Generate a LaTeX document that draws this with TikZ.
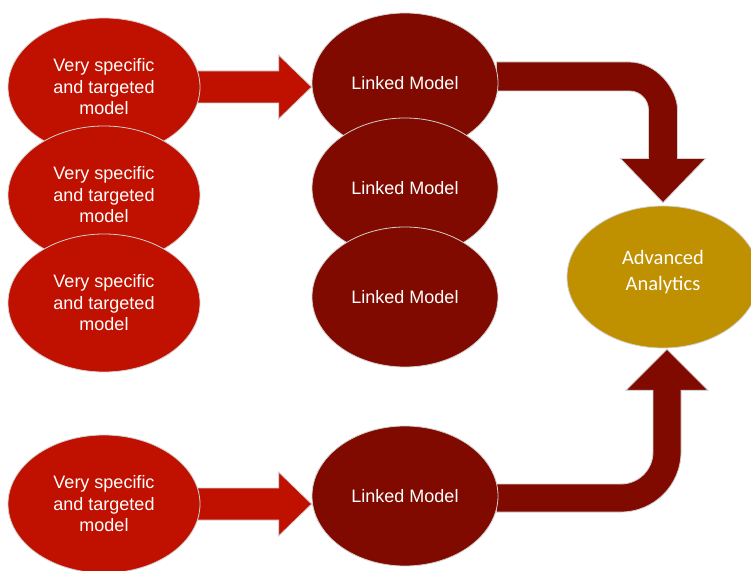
\documentclass[tikz,border=0pt]{standalone}
\usepackage{fontspec}
\setmainfont{Liberation Sans}
\newfontfamily\calib{Carlito}
\usetikzlibrary{shapes.geometric,calc}
\definecolor{redc}{RGB}{192,16,0}
\definecolor{maroon}{RGB}{128,10,0}
\definecolor{gold}{RGB}{191,144,0}
\pgfdeclarelayer{bg}
\pgfsetlayers{bg,main}
\tikzset{
  outline/.style={draw=black!18, line width=0.8pt},
  blob/.style={ellipse, outline, inner sep=0pt, align=center, text=white,
    minimum width=192pt, minimum height=138pt,
    font=\fontsize{18}{21.5}\selectfont},
  srcmodel/.style={blob, fill=redc},
  linkmodel/.style={blob, fill=maroon, minimum width=186pt, minimum height=140pt},
  goal/.style={blob, fill=gold, minimum height=142pt},
  goaltext/.style={align=center, text=white, inner sep=0pt,
    font=\calib\fontsize{20.5}{26.5}\selectfont},
  redarrow/.style={fill=redc, outline},
  darkarrow/.style={fill=maroon, outline},
}
\begin{document}
\begin{tikzpicture}[x=1pt, y=1pt]
\useasboundingbox (0,0) rectangle (751,570);
\clip (0,0) rectangle (751,570);

% source models, stacked so that each lower one overlaps the one above
\node[srcmodel] (a1) at (104,483) {Very specific\\and targeted\\model};
\node[srcmodel] (a2) at (104,375) {Very specific\\and targeted\\model};
\node[srcmodel] (a3) at (104,267) {Very specific\\and targeted\\model};
\node[srcmodel] (a4) at (104,66)  {Very specific\\and targeted\\model};

% linked models
\node[linkmodel] (l1) at (405,487) {Linked Model};
\node[linkmodel] (l2) at (405,382) {Linked Model};
\node[linkmodel] (l3) at (405,273) {Linked Model};
\node[linkmodel] (l4) at (405,74)  {Linked Model};

% target, its label set a little above the centre
\node[goal] (aa) at (663,293) {};
\node[goaltext] (aat) at ($(aa.center)+(0,5)$) {Advanced\\Analytics};

\begin{pgfonlayer}{bg}
% straight block arrows: source model -> linked model
\path[redarrow] let \p1=(a1.east), \p2=(l1.west) in
  ({\x1-3pt},{\y1+16pt}) -- ({\x2-33pt},{\y1+16pt}) -- ({\x2-33pt},{\y1+32pt})
  -- (\x2,\y1) -- ({\x2-33pt},{\y1-32pt}) -- ({\x2-33pt},{\y1-16pt})
  -- ({\x1-3pt},{\y1-16pt}) -- cycle;
\path[redarrow] let \p1=(a4.east), \p2=(l4.west) in
  ({\x1-3pt},{\y1+16pt}) -- ({\x2-33pt},{\y1+16pt}) -- ({\x2-33pt},{\y1+32pt})
  -- (\x2,\y1) -- ({\x2-33pt},{\y1-32pt}) -- ({\x2-33pt},{\y1-16pt})
  -- ({\x1-3pt},{\y1-16pt}) -- cycle;

% bent arrow: top linked model -> advanced analytics (down)
\path[darkarrow] let \p1=(l1.east), \p2=(aa.north),
    \n1={\y1+6.5pt}, \n2={\x2}, \n3={\y2+3pt} in
  ({\x1-2pt},{\n1+14.5}) -- ({\n2-33.5},{\n1+14.5})
  .. controls ({\n2-7},{\n1+14.5}) and ({\n2+14.5},{\n1-12}) .. ({\n2+14.5},{\n1-33.5})
  -- ({\n2+14.5},{\n3+44}) -- ({\n2+42.5},{\n3+44}) -- (\n2,\n3)
  -- ({\n2-42.5},{\n3+44}) -- ({\n2-14.5},{\n3+44}) -- ({\n2-14.5},{\n1-33.5})
  .. controls ({\n2-14.5},{\n1-23}) and ({\n2-23},{\n1-14.5}) .. ({\n2-33.5},{\n1-14.5})
  -- ({\x1-2pt},{\n1-14.5}) -- cycle;

% bent arrow: bottom linked model -> advanced analytics (up)
\path[darkarrow] let \p1=(l4.east), \p2=(aa.south),
    \n1={\y1-2pt}, \n2={\x2+4pt}, \n3={\y2-1pt} in
  ({\x1-2pt},{\n1-14}) -- ({\n2-46},{\n1-14})
  .. controls ({\n2-12.9},{\n1-14}) and ({\n2+14},{\n1+12.9}) .. ({\n2+14},{\n1+46})
  -- ({\n2+14},{\n3-41}) -- ({\n2+41},{\n3-41}) -- (\n2,\n3)
  -- ({\n2-41},{\n3-41}) -- ({\n2-14},{\n3-41}) -- ({\n2-14},{\n1+46})
  .. controls ({\n2-14},{\n1+28.3}) and ({\n2-28.3},{\n1+14}) .. ({\n2-46},{\n1+14})
  -- ({\x1-2pt},{\n1+14}) -- cycle;
\end{pgfonlayer}
\end{tikzpicture}
\end{document}
